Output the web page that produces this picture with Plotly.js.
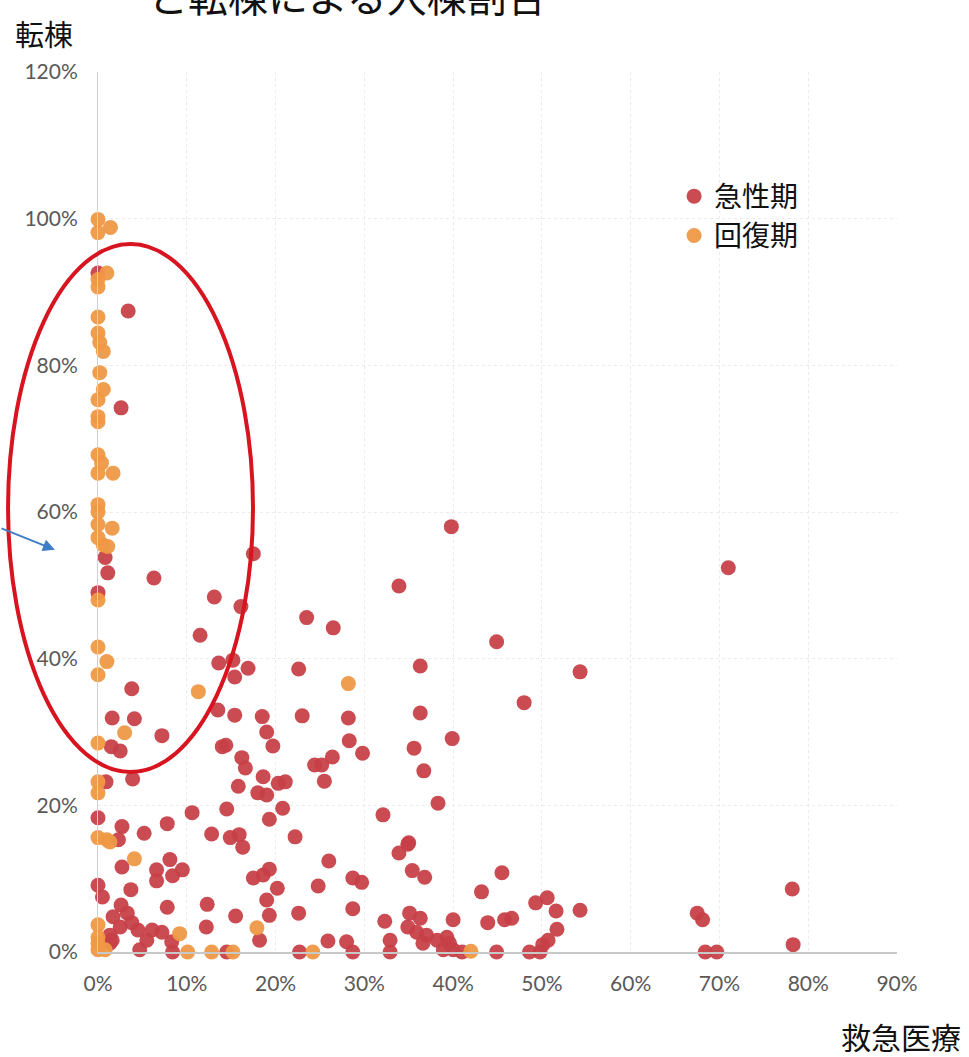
<!DOCTYPE html>
<html>
<head>
<meta charset="utf-8">
<script src="https://cdn.plot.ly/plotly-3.0.1.min.js"></script>
<style>html,body{margin:0;padding:0;background:#fff;}#chart{width:969px;height:1057px;}</style>
</head>
<body>
<div id="chart"></div>
<script>
// 急性期 (acute): [救急医療 %, 転棟 %]
const acuteX = [0,3.4,2.6,0.8,1.1,6.3,0,17.5,13.1,16.1,11.5,13.6,15.2,16.9,15.4,22.6,3.8,1.6,4.1,7.2,
  13.5,15.4,18.5,23.0,19.0,19.7,14.0,14.4,1.5,2.5,16.2,16.6,15.8,18.6,18.0,19.0,20.3,21.1,20.8,19.3,
  14.5,10.6,7.8,5.2,2.7,0,0.9,3.9,2.3,12.8,14.9,15.9,16.3,22.2,24.4,25.2,26.4,25.5,29.8,28.2,
  28.3,23.5,26.5,33.9,39.8,44.9,36.3,54.3,48.0,36.3,39.9,35.6,36.7,38.3,32.1,35.0,33.9,35.4,36.8,71.0,
  2.7,6.6,6.6,8.1,9.5,8.4,0,0.5,3.7,7.8,12.3,12.2,15.5,17.5,18.6,19.3,20.2,19.0,19.3,18.2,
  2.6,3.3,1.7,2.5,3.8,4.5,6.1,7.2,5.5,4.7,8.3,8.4,1.35,1.35,14.5,1.6,26.0,24.8,28.7,29.7,
  22.6,28.7,22.7,25.9,28.0,28.7,32.3,32.9,32.9,34.9,35.1,36.3,34.9,35.9,37.0,38.2,39.3,39.6,36.6,38.9,
  40.0,41.0,40.0,45.5,43.2,43.9,45.8,46.6,44.9,48.6,49.8,50.1,50.7,51.7,51.6,50.6,49.3,54.3,67.5,68.1,
  68.4,69.7,78.2,78.3];
const acuteY = [92.6,87.4,74.2,53.8,51.7,51.0,49.0,54.3,48.4,47.1,43.2,39.4,39.8,38.7,37.5,38.6,35.9,31.9,31.8,29.5,
  33.0,32.3,32.1,32.2,30.0,28.1,28.0,28.2,28.0,27.4,26.5,25.1,22.6,23.9,21.7,21.4,23.0,23.2,19.6,18.1,
  19.5,19.0,17.5,16.2,17.1,18.3,23.2,23.6,15.3,16.1,15.6,16.0,14.3,15.7,25.5,25.5,26.6,23.3,27.1,31.9,
  28.8,45.6,44.2,49.9,58.0,42.3,39.0,38.2,34.0,32.6,29.1,27.8,24.7,20.3,18.7,14.9,13.5,11.1,10.2,52.4,
  11.6,11.2,9.7,12.6,11.2,10.4,9.1,7.5,8.5,6.1,6.5,3.4,4.9,10.1,10.5,11.3,8.7,7.1,5.0,1.6,
  6.4,5.3,4.8,3.4,4.0,3.0,3.0,2.7,1.6,0.3,1.4,0,1.2,2.3,0,1.6,12.4,9.0,10.1,9.5,
  5.3,5.9,0,1.5,1.4,0,4.2,1.6,0,14.7,5.3,4.6,3.4,2.7,2.3,1.6,2.0,1.2,1.2,0.3,
  0.3,0,4.4,10.8,8.2,4.0,4.4,4.6,0,0,0,1.0,1.6,3.1,5.6,7.4,6.7,5.7,5.3,4.4,
  0,0,8.6,1.0];
// 回復期 (recovery)
const recovX = [0,1.4,0,1.0,0,0,0,0,0.2,0.6,0.2,0.6,0,0,0,0,0.4,0,1.7,0,
  0,0,1.6,0,0.6,1.1,0,0,1.0,0,11.3,28.2,3.0,0,0,0,0,1.0,1.35,4.1,
  0,0,0,0,0.8,9.2,10.1,12.8,15.2,17.9,24.2,42.0];
const recovY = [99.9,98.8,98.1,92.6,91.7,90.7,86.6,84.4,83.1,81.9,79.0,76.7,75.3,73.0,72.3,67.8,66.7,65.3,65.3,61.0,
  60.0,58.3,57.8,56.5,55.5,55.3,48.0,41.6,39.6,37.8,35.5,36.6,29.9,28.5,23.2,21.7,15.6,15.3,15.0,12.7,
  3.7,2.0,1.2,0.3,0.3,2.5,0,0,0,3.3,0,0.1];

const xTicks = [0,10,20,30,40,50,60,70,80,90];
const xTickText = ['0%','10%','20%','30%','40%','50%','60%','70%','80%','90%'];
const yTicks = [0,20,40,60,80,100,120];
const yTickText = ['0%','20%','40%','60%','80%','100%','120%'];

const seriesNames = ['急性期','回復期'];
const titleText = 'と転棟による入棟割合';
const yTitle = '転棟';
const xTitle = '救急医療';

const tickFont = {family:'Lato, "Open Sans", sans-serif', size:21, color:'#595959'};
const cjk = '"Noto Sans CJK JP", sans-serif';

const traces = [
  {type:'scatter', mode:'markers', name:seriesNames[0], x:acuteX, y:acuteY, cliponaxis:false,
   marker:{size:15, color:'rgba(199,64,70,0.94)', line:{width:0}}},
  {type:'scatter', mode:'markers', name:seriesNames[1], x:recovX, y:recovY, cliponaxis:false,
   marker:{size:15, color:'rgba(238,152,70,0.95)', line:{width:0}}}
];

const layout = {
  width:969, height:1057,
  margin:{l:98, r:72, t:72, b:105},
  paper_bgcolor:'#ffffff', plot_bgcolor:'#ffffff',
  showlegend:true,
  legend:{x:0.721, y:0.887, xanchor:'left', yanchor:'top', bgcolor:'rgba(0,0,0,0)',
    font:{family:cjk, size:28, color:'#111'}, tracegroupgap:0, itemsizing:'trace'},
  xaxis:{range:[0,90], tickvals:xTicks, ticktext:xTickText, tickfont:tickFont,
    showgrid:true, gridcolor:'#ebebeb', gridwidth:1, griddash:'dot',
    zeroline:false, showline:true, linecolor:'#c8c8c8', linewidth:2,
    ticks:'outside', ticklen:12, tickcolor:'rgba(0,0,0,0)', fixedrange:true},
  yaxis:{range:[0,120], tickvals:yTicks, ticktext:yTickText, tickfont:tickFont,
    showgrid:true, gridcolor:'#ebebeb', gridwidth:1, griddash:'dot',
    zeroline:false, showline:true, linecolor:'#d0d0d0', linewidth:1,
    ticks:'outside', ticklen:15, tickcolor:'rgba(0,0,0,0)', fixedrange:true},
  annotations:[
    {text:titleText, xref:'paper', yref:'paper', x:0.06, y:1.088, xanchor:'left', yanchor:'middle',
     showarrow:false, font:{family:cjk, size:40, color:'#111'}},
    {text:yTitle, xref:'paper', yref:'paper', x:-0.106, y:1.044, xanchor:'left', yanchor:'middle',
     showarrow:false, font:{family:cjk, size:29, color:'#111'}},
    {text:xTitle, xref:'paper', yref:'paper', x:1.083, y:-0.095, xanchor:'right', yanchor:'middle',
     showarrow:false, font:{family:cjk, size:30, color:'#111'}},
    {text:'', xref:'paper', yref:'paper', x:-0.054, y:0.457, axref:'pixel', ayref:'pixel', ax:-62, ay:-22,
     showarrow:true, arrowhead:2, arrowsize:1.2, arrowwidth:2, arrowcolor:'#3f7ec4'}
  ],
  shapes:[
    {type:'circle', xref:'paper', yref:'paper', x0:-0.1126, x1:0.194, y0:0.2045, y1:0.8045,
     line:{color:'#d7141f', width:4}, layer:'above'}
  ]
};

Plotly.newPlot('chart', traces, layout, {displayModeBar:false, staticPlot:true});
</script>
</body>
</html>
